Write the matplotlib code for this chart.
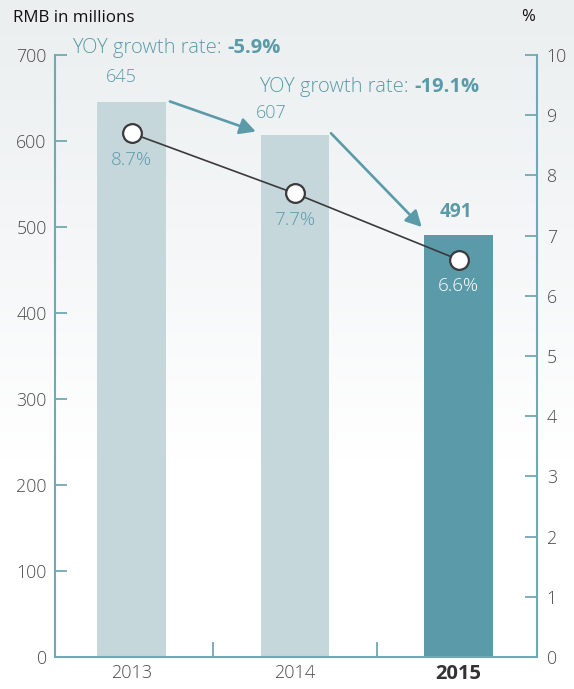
import matplotlib
matplotlib.use("Agg")
import matplotlib.pyplot as plt
import numpy as np
from matplotlib.colors import LinearSegmentedColormap

years = ["2013", "2014", "2015"]
revenue = [645, 607, 491]
growth_pct = [8.7, 7.7, 6.6]
yoy_labels = ["-5.9%", "-19.1%"]
left_ticks = [0, 100, 200, 300, 400, 500, 600, 700]
right_ticks = [0, 1, 2, 3, 4, 5, 6, 7, 8, 9, 10]

TEAL = "#5b9ba9"
LIGHT = "#c6d7dc"
SPINE = "#72a8b3"
TXT = "#4a4a4a"
FONT = "Open Sans"
plt.rcParams['font.family'] = [FONT, 'DejaVu Sans']

W, H = 574, 689
fig = plt.figure(figsize=(W / 100, H / 100), dpi=100)
# background gradient
bg = fig.add_axes([0, 0, 1, 1], zorder=-10)
grad = np.linspace(0, 1, 256).reshape(-1, 1)
cmap = LinearSegmentedColormap.from_list("bg", ["#ffffff", "#ffffff", "#f4f6f7", "#ebeff0"])
bg.imshow(grad, aspect="auto", cmap=cmap, extent=[0, 1, 0, 1], origin="lower")
bg.axis("off")

L, R, T, B = 55, 537, 55, 657
ax = fig.add_axes([L / W, (H - B) / H, (R - L) / W, (B - T) / H])
ax.patch.set_alpha(0)
x = np.arange(len(years))
colors = [LIGHT, LIGHT, TEAL]
ax.bar(x, revenue, width=0.42, color=colors, zorder=2)
ax.set_xlim(-0.468, 2.48)
ax.set_ylim(0, 700)
ax.set_yticks(left_ticks)
ax.set_xticks(x)
ax.set_xticklabels(years)
ax.set_xticks([0.5, 1.5], minor=True)
ax.tick_params(axis="x", which="major", length=0, pad=5, labelsize=13)
ax.tick_params(axis="x", which="minor", direction="in", length=10.5, width=1.3, color=SPINE)
ax.tick_params(axis="y", direction="in", length=8.5, width=1.3, color=SPINE, labelsize=12.8, pad=6)
for lb in ax.get_xticklabels() + ax.get_yticklabels():
    lb.set_fontweight(300)
    lb.set_color(TXT)
lbls = ax.get_xticklabels()
lbls[2].set_fontweight("bold")
lbls[2].set_color("#333333")
lbls[2].set_fontsize(14.5)
for s in ["top", "right"]:
    ax.spines[s].set_visible(False)
for s in ["left", "bottom"]:
    ax.spines[s].set_color(SPINE)
    ax.spines[s].set_linewidth(1.5)

ax2 = ax.twinx()
ax2.set_ylim(0, 10)
ax2.set_yticks(right_ticks)
ax2.tick_params(axis="y", direction="in", length=8.5, width=1.3, color=SPINE, labelsize=12.8, pad=7)
for lb in ax2.get_yticklabels():
    lb.set_fontweight(300)
    lb.set_color(TXT)
for s in ["top", "left", "bottom"]:
    ax2.spines[s].set_visible(False)
ax2.spines["right"].set_color(SPINE)
ax2.spines["right"].set_linewidth(1.5)
ax2.plot(x, growth_pct, color="#3a3a3a", lw=1.2, marker="o", ms=13.5,
         mfc="white", mec="#3a3a3a", mew=1.6, zorder=5)

# percent labels
pct_col = [TEAL, TEAL, "white"]
for i, v in enumerate(growth_pct):
    ax2.annotate(f"{v}%", (x[i], v), xytext=(0, -19), textcoords="offset points",
                 ha="center", va="center", fontsize=13.5, color=pct_col[i], fontweight=300)

# value labels
ax.text(-0.064, 675, f"{revenue[0]}", ha="center", va="center", fontsize=13, color=TEAL, fontweight=300)
ax.text(0.853, 633, f"{revenue[1]}", ha="center", va="center", fontsize=13, color=TEAL, fontweight=300)
ax.text(1.985, 518, f"{revenue[2]}", ha="center", va="center", fontsize=13.8, color=TEAL, fontweight="bold")

# YOY labels
t1 = ax.text(-0.364, 708, "YOY growth rate: ", ha="left", va="center", fontsize=14.5,
             color=TEAL, fontweight=300)
ax.annotate(yoy_labels[0], xycoords=t1, xy=(1, 0.5), va="center", ha="left",
            fontsize=14.5, color=TEAL, fontweight="bold")
t2 = ax.text(0.78, 663, "YOY growth rate: ", ha="left", va="center", fontsize=14.5,
             color=TEAL, fontweight=300)
ax.annotate(yoy_labels[1], xycoords=t2, xy=(1, 0.5), va="center", ha="left",
            fontsize=14.5, color=TEAL, fontweight="bold")

# arrows
arrow_kw = dict(arrowstyle="-|>,head_length=0.95,head_width=0.5", color=TEAL, lw=1.9,
                shrinkA=0, shrinkB=0)
ax.annotate("", xy=(0.76, 611), xytext=(0.235, 646), arrowprops=arrow_kw, annotation_clip=False)
ax.annotate("", xy=(1.775, 500), xytext=(1.22, 609), arrowprops=arrow_kw, annotation_clip=False)

fig.text(13 / W, 1 - 18 / H, "RMB in millions", ha="left", va="center", fontsize=12.2, color="#111111")
fig.text(528 / W, 1 - 17 / H, "%", ha="center", va="center", fontsize=12, color="#111111")

fig.savefig("out.png", dpi=100)
